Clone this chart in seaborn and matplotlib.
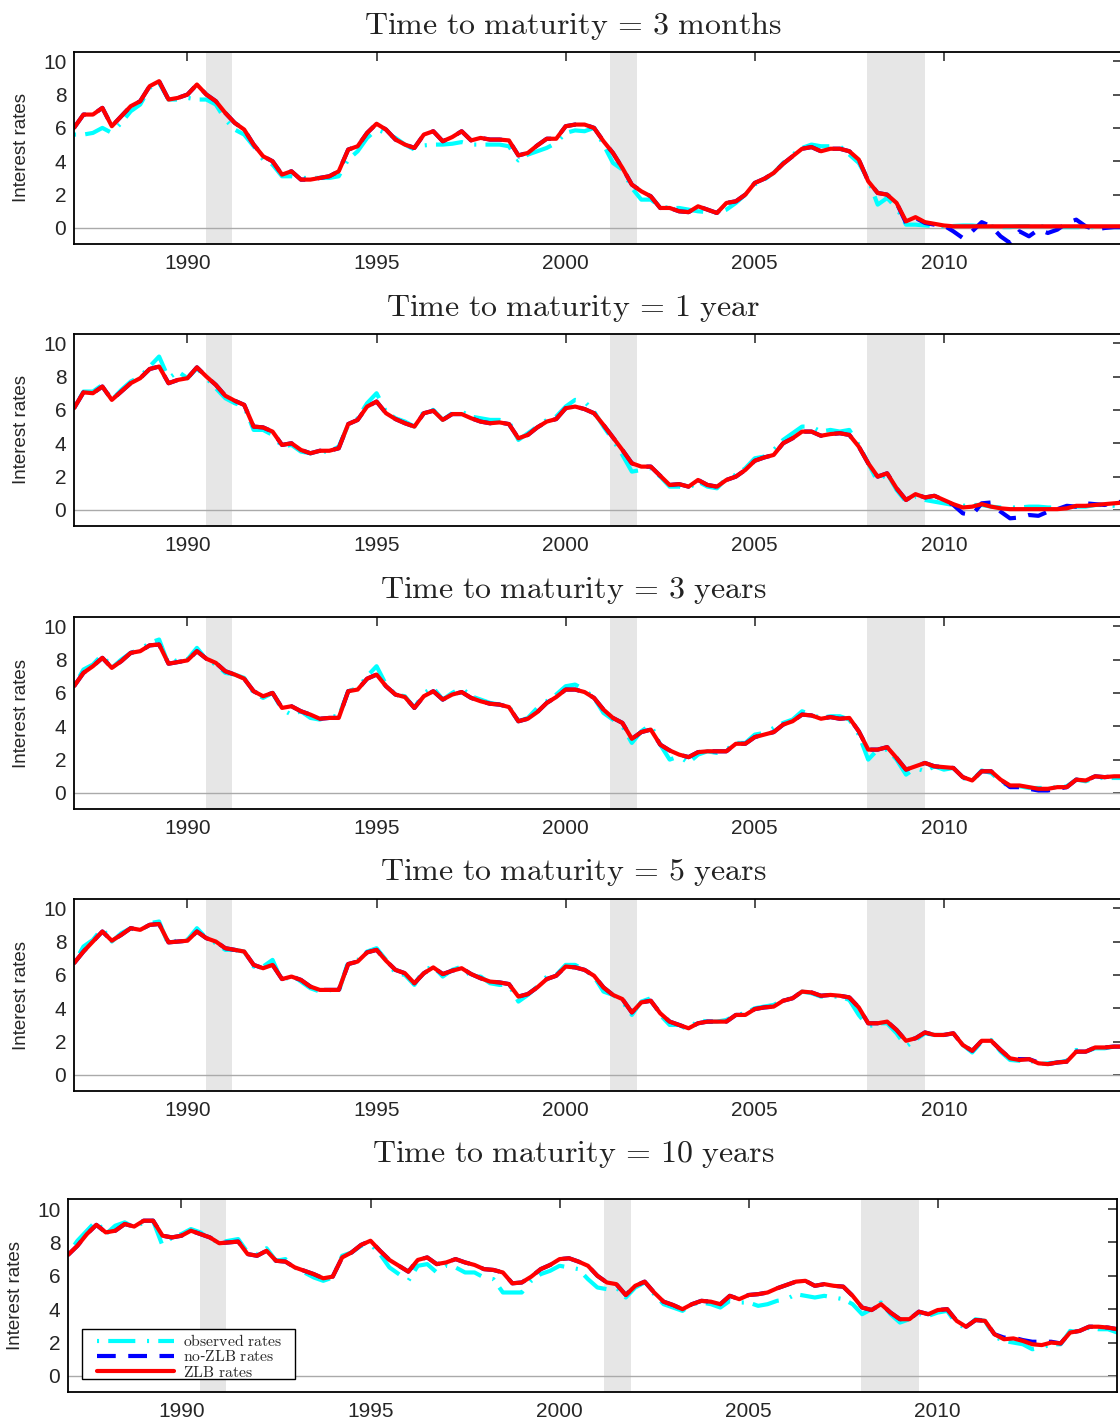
import numpy as np
import pandas as pd
import matplotlib
matplotlib.use('Agg')
import matplotlib.pyplot as plt
from matplotlib.patches import Rectangle
import seaborn as sns

# quarterly dates, 1987Q1 .. 2014Q4
dates = np.arange(1987.0, 2015.0, 0.25)

maturities = ['3\\ months', '1\\ year', '3\\ years', '5\\ years', '10\\ years']

# ---- 3 months ----
obs_3m = [5.6, 5.6, 5.7, 6.0,  5.7, 6.3, 7.0, 7.4,  8.4, 8.7, 7.7, 7.7,  7.8, 7.7, 7.7, 7.4,
          6.5, 5.9, 5.6, 4.9,  4.1, 3.8, 3.1, 3.1,  3.0, 3.0, 3.0, 3.0,  3.1, 4.1, 4.6, 5.4,
          5.9, 5.7, 5.4, 5.0,  4.7, 4.95, 5.0, 5.0,  5.05, 5.15, 5.0, 5.0,  5.0, 5.0, 4.9, 4.05,
          4.4, 4.6, 4.8, 5.1,  5.7, 5.85, 5.8, 6.0,  5.0, 3.9, 3.5, 2.4,  1.7, 1.7, 1.3, 1.2,
          1.2, 1.1, 1.0, 0.95,  0.9, 1.1, 1.5, 2.0,  2.6, 2.9, 3.3, 3.9,  4.4, 4.8, 5.0, 4.9,
          4.9, 4.9, 4.4, 3.9,  2.9, 1.4, 1.8, 1.2,  0.2, 0.2, 0.15, 0.1,  0.1, 0.12, 0.15, 0.15,
          0.1, 0.1, 0.05, 0.05,  0.1, 0.1, 0.1, 0.1,  0.05, 0.05, 0.05, 0.05,  0.05, 0.05, 0.05, 0.05]
nozlb_3m = [6.0, 6.8, 6.8, 7.2,  6.1, 6.7, 7.3, 7.6,  8.5, 8.8, 7.7, 7.8,  8.0, 8.6, 8.0, 7.6,
            6.9, 6.3, 5.9, 5.0,  4.3, 4.0, 3.2, 3.4,  2.9, 2.9, 3.0, 3.1,  3.4, 4.7, 4.9, 5.7,
            6.25, 5.9, 5.3, 5.0,  4.8, 5.6, 5.8, 5.2,  5.45, 5.8, 5.25, 5.4,  5.3, 5.3, 5.25, 4.35,
            4.5, 4.95, 5.35, 5.35,  6.1, 6.2, 6.2, 6.0,  5.2, 4.5, 3.6, 2.6,  2.2, 1.9, 1.2, 1.2,
            1.0, 0.95, 1.3, 1.1,  0.9, 1.5, 1.6, 2.0,  2.7, 2.95, 3.3, 3.85,  4.3, 4.75, 4.85, 4.6,
            4.75, 4.75, 4.6, 4.1,  2.8, 2.1, 2.0, 1.5,  0.3, 0.6, 0.3, 0.2,  0.15, -0.2, -0.6, -0.2,
            0.35, 0.1, -0.5, -0.9,  -0.2, -0.5, -0.1, -0.3,  -0.1, 0.3, 0.5, 0.1,  -0.1, 0.0, 0.05, 0.05]
zlb_3m = [6.0, 6.8, 6.8, 7.2,  6.1, 6.7, 7.3, 7.6,  8.5, 8.8, 7.7, 7.8,  8.0, 8.6, 8.0, 7.6,
          6.9, 6.3, 5.9, 5.0,  4.3, 4.0, 3.2, 3.4,  2.9, 2.9, 3.0, 3.1,  3.4, 4.7, 4.9, 5.7,
          6.25, 5.9, 5.3, 5.0,  4.8, 5.6, 5.8, 5.2,  5.45, 5.8, 5.25, 5.4,  5.3, 5.3, 5.25, 4.35,
          4.5, 4.95, 5.35, 5.35,  6.1, 6.2, 6.2, 6.0,  5.2, 4.5, 3.6, 2.6,  2.2, 1.9, 1.2, 1.2,
          1.0, 0.95, 1.3, 1.1,  0.9, 1.5, 1.6, 2.0,  2.7, 2.95, 3.3, 3.85,  4.3, 4.75, 4.85, 4.6,
          4.75, 4.75, 4.6, 4.1,  2.8, 2.1, 2.0, 1.5,  0.4, 0.65, 0.35, 0.25,  0.15, 0.1, 0.1, 0.1,
          0.1, 0.1, 0.1, 0.1,  0.1, 0.1, 0.1, 0.1,  0.1, 0.1, 0.1, 0.1,  0.1, 0.1, 0.1, 0.1]

# ---- 1 year ----
obs_1y = [6.1, 7.1, 7.1, 7.5,  6.6, 7.2, 7.7, 8.0,  8.6, 9.2, 7.9, 8.3,  7.9, 8.5, 7.9, 7.3,
          6.7, 6.4, 6.2, 4.8,  4.8, 4.5, 3.8, 3.9,  3.5, 3.4, 3.5, 3.5,  3.8, 5.1, 5.5, 6.4,
          7.0, 5.9, 5.5, 5.3,  5.0, 5.9, 6.0, 5.4,  5.8, 5.9, 5.6, 5.5,  5.4, 5.4, 5.3, 4.2,
          4.6, 5.0, 5.4, 5.6,  6.2, 6.6, 6.5, 5.9,  5.0, 4.2, 3.3, 2.3,  2.4, 2.5, 2.0, 1.4,
          1.4, 1.3, 1.7, 1.4,  1.3, 1.9, 2.1, 2.5,  3.1, 3.2, 3.6, 4.2,  4.6, 5.0, 5.0, 4.7,
          4.8, 4.7, 4.8, 3.9,  2.8, 1.7, 2.2, 1.2,  0.5, 0.8, 0.6, 0.5,  0.4, 0.3, 0.25, 0.3,
          0.3, 0.2, 0.15, 0.15,  0.15, 0.2, 0.2, 0.15,  0.15, 0.15, 0.2, 0.2,  0.3, 0.3, 0.25, 0.2]
nozlb_1y = [6.1, 7.05, 7.0, 7.4,  6.6, 7.1, 7.6, 7.9,  8.45, 8.6, 7.6, 7.8,  7.9, 8.55, 8.0, 7.5,
            6.85, 6.55, 6.3, 5.0,  4.95, 4.7, 3.9, 4.0,  3.6, 3.4, 3.55, 3.55,  3.7, 5.15, 5.4, 6.2,
            6.5, 5.8, 5.45, 5.2,  5.0, 5.8, 5.95, 5.4,  5.75, 5.75, 5.5, 5.3,  5.2, 5.25, 5.15, 4.3,
            4.5, 4.95, 5.3, 5.45,  6.1, 6.2, 6.05, 5.8,  5.1, 4.35, 3.6, 2.8,  2.6, 2.6, 2.05, 1.5,
            1.55, 1.4, 1.8, 1.5,  1.4, 1.8, 2.0, 2.4,  2.95, 3.15, 3.3, 4.0,  4.3, 4.7, 4.7, 4.45,
            4.55, 4.6, 4.5, 3.8,  2.8, 2.0, 2.2, 1.3,  0.6, 0.95, 0.75, 0.85,  0.6, 0.3, -0.2, -0.3,
            0.4, 0.45, -0.1, -0.5,  -0.45, -0.3, -0.35, -0.1,  0.05, 0.25, 0.2, 0.4,  0.35, 0.3, 0.45, 0.5]
zlb_1y = [6.1, 7.05, 7.0, 7.4,  6.6, 7.1, 7.6, 7.9,  8.45, 8.6, 7.6, 7.8,  7.9, 8.55, 8.0, 7.5,
          6.85, 6.55, 6.3, 5.0,  4.95, 4.7, 3.9, 4.0,  3.6, 3.4, 3.55, 3.55,  3.7, 5.15, 5.4, 6.2,
          6.5, 5.8, 5.45, 5.2,  5.0, 5.8, 5.95, 5.4,  5.75, 5.75, 5.5, 5.3,  5.2, 5.25, 5.15, 4.3,
          4.5, 4.95, 5.3, 5.45,  6.1, 6.2, 6.05, 5.8,  5.1, 4.35, 3.6, 2.8,  2.6, 2.6, 2.05, 1.5,
          1.55, 1.4, 1.8, 1.5,  1.4, 1.8, 2.0, 2.4,  2.95, 3.15, 3.3, 4.0,  4.3, 4.7, 4.7, 4.45,
          4.55, 4.6, 4.5, 3.8,  2.8, 2.0, 2.2, 1.3,  0.6, 0.95, 0.75, 0.85,  0.6, 0.35, 0.15, 0.2,
          0.35, 0.2, 0.1, 0.05,  0.05, 0.05, 0.05, 0.05,  0.05, 0.1, 0.25, 0.25,  0.3, 0.35, 0.4, 0.45]

# ---- 3 years ----
obs_3y = [6.4, 7.4, 7.7, 8.3,  7.5, 8.0, 8.4, 8.6,  9.0, 9.2, 7.7, 8.0,  8.0, 8.7, 8.0, 7.7,
          7.2, 7.1, 6.9, 6.0,  5.7, 6.0, 5.0, 4.7,  4.9, 4.5, 4.4, 4.6,  4.6, 6.1, 6.3, 7.0,
          7.6, 6.5, 5.9, 5.8,  5.1, 6.0, 6.3, 5.6,  6.0, 6.3, 5.8, 5.6,  5.4, 5.3, 5.2, 4.3,
          4.5, 5.1, 5.5, 5.9,  6.4, 6.5, 6.2, 5.7,  4.8, 4.4, 4.0, 3.0,  3.7, 4.1, 2.9, 2.0,
          2.2, 1.8, 2.3, 2.5,  2.4, 2.6, 3.0, 3.0,  3.5, 3.6, 3.9, 4.2,  4.4, 4.9, 4.7, 4.5,
          4.6, 4.6, 4.4, 3.5,  2.0, 2.6, 2.6, 2.0,  1.1, 1.5, 1.3, 1.6,  1.4, 1.5, 0.9, 0.75,
          1.35, 1.2, 0.7, 0.35,  0.4, 0.3, 0.3, 0.3,  0.35, 0.4, 0.8, 0.7,  0.9, 0.9, 0.9, 0.9]
nozlb_3y = [6.4, 7.2, 7.6, 8.1,  7.5, 7.9, 8.4, 8.5,  8.85, 8.9, 7.75, 7.85,  7.95, 8.5, 8.05, 7.8,
            7.3, 7.1, 6.85, 6.1,  5.8, 6.0, 5.1, 5.2,  4.9, 4.7, 4.45, 4.5,  4.5, 6.1, 6.2, 6.85,
            7.1, 6.4, 5.9, 5.75,  5.1, 5.8, 6.1, 5.6,  5.9, 6.05, 5.7, 5.5,  5.35, 5.3, 5.15, 4.3,
            4.45, 4.85, 5.4, 5.75,  6.2, 6.2, 6.05, 5.7,  5.0, 4.5, 4.2, 3.25,  3.65, 3.8, 2.9, 2.55,
            2.3, 2.15, 2.45, 2.5,  2.5, 2.5, 2.95, 2.95,  3.35, 3.5, 3.65, 4.1,  4.3, 4.7, 4.65, 4.45,
            4.55, 4.45, 4.5, 3.7,  2.6, 2.6, 2.75, 2.1,  1.4, 1.6, 1.8, 1.6,  1.55, 1.5, 0.95, 0.75,
            1.3, 1.3, 0.8, 0.35,  0.35, 0.25, 0.15, 0.15,  0.25, 0.35, 0.8, 0.75,  1.0, 0.95, 1.0, 1.0]
zlb_3y = [6.4, 7.2, 7.6, 8.1,  7.5, 7.9, 8.4, 8.5,  8.85, 8.9, 7.75, 7.85,  7.95, 8.5, 8.05, 7.8,
          7.3, 7.1, 6.85, 6.1,  5.8, 6.0, 5.1, 5.2,  4.9, 4.7, 4.45, 4.5,  4.5, 6.1, 6.2, 6.85,
          7.1, 6.4, 5.9, 5.75,  5.1, 5.8, 6.1, 5.6,  5.9, 6.05, 5.7, 5.5,  5.35, 5.3, 5.15, 4.3,
          4.45, 4.85, 5.4, 5.75,  6.2, 6.2, 6.05, 5.7,  5.0, 4.5, 4.2, 3.25,  3.65, 3.8, 2.9, 2.55,
          2.3, 2.15, 2.45, 2.5,  2.5, 2.5, 2.95, 2.95,  3.35, 3.5, 3.65, 4.1,  4.3, 4.7, 4.65, 4.45,
          4.55, 4.45, 4.5, 3.7,  2.6, 2.6, 2.75, 2.1,  1.4, 1.6, 1.8, 1.6,  1.55, 1.5, 0.95, 0.75,
          1.3, 1.3, 0.8, 0.45,  0.45, 0.35, 0.25, 0.25,  0.35, 0.35, 0.8, 0.75,  1.0, 0.95, 1.0, 1.0]

# ---- 5 years ----
obs_5y = [6.7, 7.7, 8.1, 8.8,  8.0, 8.5, 8.8, 8.6,  9.1, 9.2, 7.8, 8.1,  8.1, 8.8, 8.2, 7.9,
          7.5, 7.5, 7.4, 6.5,  6.5, 6.9, 5.6, 6.0,  5.6, 5.2, 5.0, 5.1,  5.0, 6.8, 6.9, 7.4,
          7.6, 6.9, 6.1, 6.0,  5.4, 6.3, 6.5, 5.9,  6.3, 6.5, 5.9, 5.9,  5.5, 5.4, 5.4, 4.4,
          4.8, 5.3, 5.9, 6.0,  6.6, 6.6, 6.3, 5.9,  5.0, 4.8, 4.4, 3.6,  4.4, 4.6, 3.6, 3.0,
          3.0, 2.7, 3.3, 3.2,  3.2, 3.3, 3.6, 3.7,  4.0, 4.1, 4.2, 4.5,  4.6, 5.0, 4.9, 4.7,
          4.7, 4.7, 4.5, 3.6,  2.9, 3.1, 3.1, 2.5,  1.7, 2.1, 2.5, 2.4,  2.4, 2.5, 1.8, 1.35,
          2.0, 2.1, 1.4, 0.9,  0.85, 0.9, 0.65, 0.7,  0.75, 0.85, 1.5, 1.4,  1.6, 1.6, 1.7, 1.7]
nozlb_5y = [6.7, 7.4, 8.0, 8.6,  8.05, 8.4, 8.8, 8.7,  9.0, 9.05, 7.95, 8.0,  8.05, 8.6, 8.2, 8.0,
            7.6, 7.5, 7.4, 6.6,  6.4, 6.6, 5.75, 5.9,  5.7, 5.3, 5.1, 5.1,  5.1, 6.65, 6.8, 7.35,
            7.5, 6.85, 6.3, 6.1,  5.5, 6.1, 6.45, 6.05,  6.25, 6.4, 6.05, 5.8,  5.6, 5.55, 5.45, 4.7,
            4.85, 5.25, 5.75, 5.95,  6.5, 6.45, 6.3, 5.95,  5.25, 4.8, 4.55, 3.75,  4.35, 4.45, 3.7, 3.2,
            3.0, 2.8, 3.1, 3.2,  3.2, 3.2, 3.6, 3.6,  3.95, 4.05, 4.1, 4.45,  4.6, 5.0, 4.95, 4.75,
            4.8, 4.75, 4.65, 4.05,  3.1, 3.1, 3.2, 2.7,  2.05, 2.2, 2.55, 2.4,  2.4, 2.5, 1.8, 1.45,
            2.05, 2.05, 1.5, 1.0,  0.95, 0.95, 0.75, 0.65,  0.75, 0.8, 1.4, 1.4,  1.65, 1.65, 1.7, 1.7]
zlb_5y = [6.7, 7.4, 8.0, 8.6,  8.05, 8.4, 8.8, 8.7,  9.0, 9.05, 7.95, 8.0,  8.05, 8.6, 8.2, 8.0,
          7.6, 7.5, 7.4, 6.6,  6.4, 6.6, 5.75, 5.9,  5.7, 5.3, 5.1, 5.1,  5.1, 6.65, 6.8, 7.35,
          7.5, 6.85, 6.3, 6.1,  5.5, 6.1, 6.45, 6.05,  6.25, 6.4, 6.05, 5.8,  5.6, 5.55, 5.45, 4.7,
          4.85, 5.25, 5.75, 5.95,  6.5, 6.45, 6.3, 5.95,  5.25, 4.8, 4.55, 3.75,  4.35, 4.45, 3.7, 3.2,
          3.0, 2.8, 3.1, 3.2,  3.2, 3.2, 3.6, 3.6,  3.95, 4.05, 4.1, 4.45,  4.6, 5.0, 4.95, 4.75,
          4.8, 4.75, 4.65, 4.05,  3.1, 3.1, 3.2, 2.7,  2.05, 2.2, 2.55, 2.4,  2.4, 2.5, 1.8, 1.45,
          2.05, 2.05, 1.5, 1.0,  0.9, 0.95, 0.7, 0.65,  0.75, 0.8, 1.4, 1.4,  1.65, 1.65, 1.7, 1.7]

# ---- 10 years ----
obs_10y = [7.3, 8.1, 8.7, 9.3,  8.5, 9.0, 9.2, 8.9,  9.2, 9.3, 7.8, 8.3,  8.5, 8.8, 8.6, 8.2,
           8.0, 8.1, 8.2, 7.4,  7.3, 7.65, 6.9, 7.0,  6.5, 6.2, 5.9, 5.7,  5.9, 7.2, 7.4, 7.8,
           7.9, 7.3, 6.5, 6.1,  5.7, 6.6, 6.7, 6.2,  6.6, 6.5, 6.2, 6.2,  5.9, 5.8, 5.0, 5.0,
           5.0, 5.7, 6.1, 6.3,  6.6, 6.5, 6.4, 5.8,  5.3, 5.2, 5.3, 4.7,  5.3, 5.6, 4.9, 4.3,
           4.1, 3.9, 4.3, 4.4,  4.3, 4.1, 4.5, 4.4,  4.4, 4.2, 4.3, 4.5,  4.6, 4.9, 4.8, 4.7,
           4.8, 4.7, 4.6, 4.3,  3.7, 4.0, 4.4, 3.7,  3.2, 3.4, 3.7, 3.6,  3.8, 3.9, 3.1, 2.9,
           3.4, 3.3, 2.35, 2.1,  2.0, 1.9, 1.6, 1.7,  1.9, 1.9, 2.7, 2.6,  2.9, 2.8, 2.8, 2.6]
nozlb_10y = [7.25, 7.8, 8.5, 9.05,  8.6, 8.7, 9.1, 8.95,  9.3, 9.3, 8.4, 8.3,  8.4, 8.7, 8.5, 8.3,
             7.95, 8.0, 8.05, 7.3,  7.2, 7.5, 6.9, 6.85,  6.5, 6.3, 6.1, 5.85,  5.95, 7.1, 7.4, 7.85,
             8.1, 7.5, 6.95, 6.6,  6.25, 6.95, 7.1, 6.7,  6.8, 7.0, 6.8, 6.65,  6.4, 6.35, 6.2, 5.55,
             5.6, 5.95, 6.4, 6.65,  7.0, 7.05, 6.85, 6.6,  6.0, 5.6, 5.5, 4.85,  5.4, 5.65, 5.0, 4.45,
             4.25, 4.0, 4.3, 4.5,  4.45, 4.3, 4.8, 4.6,  4.85, 4.9, 5.0, 5.25,  5.45, 5.65, 5.7, 5.4,
             5.5, 5.4, 5.35, 4.8,  4.1, 3.95, 4.3, 3.8,  3.4, 3.4, 3.85, 3.7,  3.95, 4.0, 3.3, 2.95,
             3.35, 3.3, 2.5, 2.3,  2.3, 2.15, 2.05, 2.05,  2.05, 1.95, 2.6, 2.7,  2.95, 2.95, 2.9, 2.8]
zlb_10y = [7.25, 7.8, 8.5, 9.05,  8.6, 8.7, 9.1, 8.95,  9.3, 9.3, 8.4, 8.3,  8.4, 8.7, 8.5, 8.3,
           7.95, 8.0, 8.05, 7.3,  7.2, 7.5, 6.9, 6.85,  6.5, 6.3, 6.1, 5.85,  5.95, 7.1, 7.4, 7.85,
           8.1, 7.5, 6.95, 6.6,  6.25, 6.95, 7.1, 6.7,  6.8, 7.0, 6.8, 6.65,  6.4, 6.35, 6.2, 5.55,
           5.6, 5.95, 6.4, 6.65,  7.0, 7.05, 6.85, 6.6,  6.0, 5.6, 5.5, 4.85,  5.4, 5.65, 5.0, 4.45,
           4.25, 4.0, 4.3, 4.5,  4.45, 4.3, 4.8, 4.6,  4.85, 4.9, 5.0, 5.25,  5.45, 5.65, 5.7, 5.4,
           5.5, 5.4, 5.35, 4.8,  4.1, 3.95, 4.3, 3.8,  3.4, 3.4, 3.85, 3.7,  3.95, 4.0, 3.3, 2.95,
           3.35, 3.3, 2.5, 2.2,  2.25, 2.1, 1.9, 1.85,  2.0, 1.95, 2.6, 2.7,  2.95, 2.95, 2.9, 2.8]

observed = [obs_3m, obs_1y, obs_3y, obs_5y, obs_10y]
no_zlb = [nozlb_3m, nozlb_1y, nozlb_3y, nozlb_5y, nozlb_10y]
zlb = [zlb_3m, zlb_1y, zlb_3y, zlb_5y, zlb_10y]

recessions = [(1990.5, 1991.17), (2001.17, 2001.88), (2007.96, 2009.5)]
year_ticks = [1990, 1995, 2000, 2005, 2010]
rate_ticks = [0, 2, 4, 6, 8, 10]

series_names = ['observed rates', 'no-ZLB rates', 'ZLB rates']
legend_labels = [r'$\mathrm{observed\ rates}$', r'$\mathrm{no}$-$\mathrm{ZLB\ rates}$',
                 r'$\mathrm{ZLB\ rates}$']
palette = {'observed rates': '#00ffff', 'no-ZLB rates': '#0000ff', 'ZLB rates': '#ff0000'}
dash_styles = {'observed rates': (0.5, 2.2, 6.5, 2.8), 'no-ZLB rates': (4.5, 3.0), 'ZLB rates': ''}

sns.set_theme(style='white')
plt.rcParams['font.family'] = ['Liberation Sans', 'DejaVu Sans']
plt.rcParams['mathtext.fontset'] = 'cm'

W, H = 1120, 1421
fig = plt.figure(figsize=(W / 100, H / 100), dpi=100)

# axes boxes in pixels: left, top, right, bottom
boxes = [(74, 52, 1122, 244), (74, 334, 1122, 526), (74, 617, 1122, 809),
         (74, 899, 1122, 1091), (68, 1199, 1117, 1392)]
title_y = [26, 308, 590, 872, 1154]

for i, (left, top, right, bottom) in enumerate(boxes):
    ax = fig.add_axes([left / W, 1 - bottom / H, (right - left) / W, (bottom - top) / H])
    for a, b in recessions:
        ax.axvspan(a, b, color='#e6e6e6', lw=0, zorder=0)
    ax.axhline(0, color='#aaaaaa', lw=1.0, zorder=1)

    df = pd.DataFrame({
        'date': np.tile(dates, 3),
        'rate': np.concatenate([observed[i], no_zlb[i], zlb[i]]),
        'series': np.repeat(series_names, len(dates)),
    })
    sns.lineplot(data=df, x='date', y='rate', hue='series', style='series',
                 hue_order=series_names, style_order=series_names,
                 palette=palette, dashes=dash_styles, linewidth=3,
                 estimator=None, errorbar=None, legend=(i == 4), ax=ax, zorder=2)

    ax.set_xlim(1987.0, 2014.71 if i < 4 else 2014.74)
    ax.set_ylim(-0.96, 10.55 if i < 4 else 10.6)
    ax.set_xticks(year_ticks)
    ax.set_xticklabels([str(y) for y in year_ticks])
    ax.set_yticks(rate_ticks)
    ax.set_yticklabels([str(v) for v in rate_ticks])
    ax.tick_params(axis='both', direction='in', length=6.5, width=1.2, color='#333333',
                   top=True, right=True, labelsize=15)
    ax.tick_params(axis='x', pad=7.5)
    ax.tick_params(axis='y', pad=5.5)
    ax.set_xlabel('')
    ax.set_ylabel('Interest rates', fontsize=13.5, labelpad=9)
    for s in ax.spines.values():
        s.set_color('black')
        s.set_linewidth(1.3)

    fig.text(573 / W, 1 - title_y[i] / H,
             r'$\mathrm{Time\ to\ maturity}\,=\,\mathrm{' + maturities[i] + '}$',
             fontsize=23, ha='center', va='center', color='#222222')

    if i == 4:
        handles, labels = ax.get_legend_handles_labels()
        hmap = dict(zip(labels, handles))
        leg = ax.legend([hmap[n] for n in series_names], legend_labels,
                        loc='upper left', bbox_to_anchor=(97 / W, 1 - 1333 / H),
                        bbox_transform=fig.transFigure, borderaxespad=0, borderpad=0,
                        frameon=False, fontsize=11.3, handlelength=4.9,
                        handletextpad=0.55, labelspacing=0.02)
        for h in leg.legend_handles:
            h.set_linewidth(3)
        leg.set_zorder(10)
        # legend frame (square black box), drawn above the lines but below the legend
        ax.add_patch(Rectangle((82 / W, 1 - 1379 / H), 213 / W, 50 / H,
                               transform=fig.transFigure, facecolor='white',
                               edgecolor='black', lw=1.0, zorder=9, clip_on=False))

fig.savefig('out.png', dpi=100)
